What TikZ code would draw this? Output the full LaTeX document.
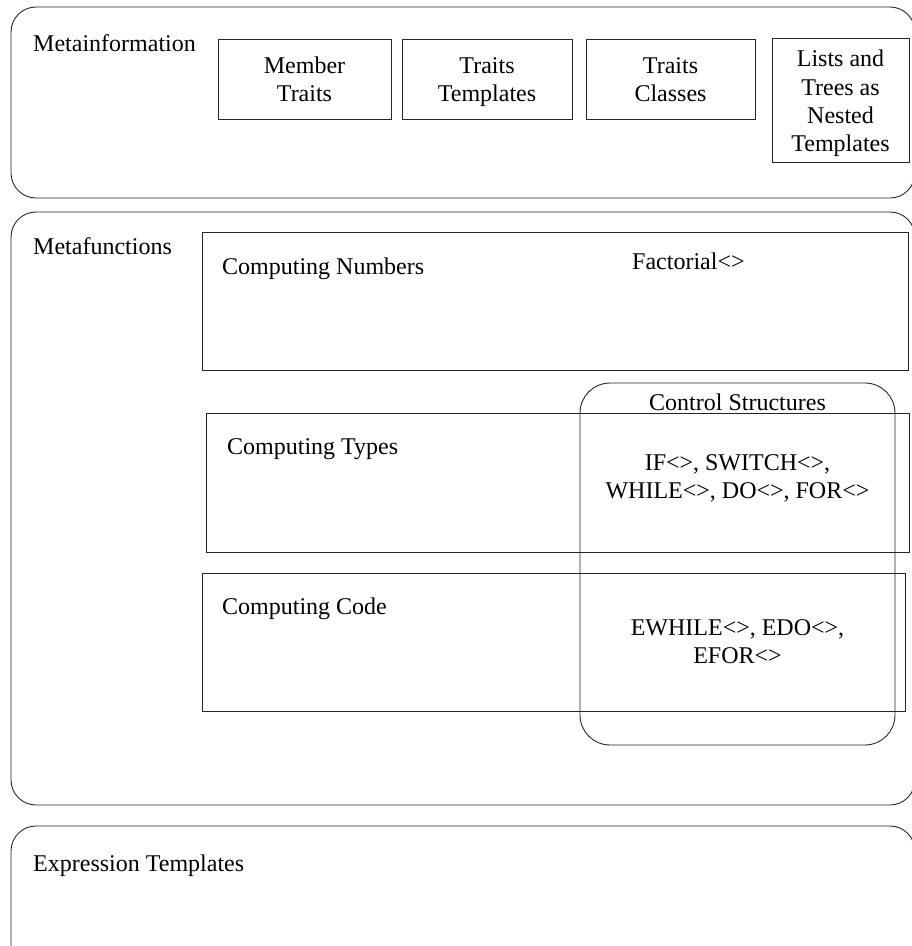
\documentclass[tikz,border=0pt]{standalone}
\usepackage{fontspec}
\setmainfont{Liberation Serif}
\begin{document}
\begin{tikzpicture}[x=1pt,y=-1pt,
  every node/.style={font=\fontsize{24}{28.3}\selectfont, inner sep=0pt, text=black},
  outerbox/.style={draw=black!85, line width=0.9pt, rounded corners=25pt},
  evenlines/.style={align=center, yshift=-3pt, execute at begin node={\vphantom{lp}}, execute at end node={\vphantom{lp}}},
  plainbox/.style={draw=black!85, line width=0.9pt},
  ctrlbox/.style={draw=black!85, line width=0.9pt, rounded corners=30pt},
  lbl/.style={anchor=base west}]
\useasboundingbox (0,0) rectangle (912,946);
\clip (0,0) rectangle (912,946);
% outer groups
\node[outerbox, minimum width=904pt, minimum height=191pt] (metainfo) at (463,102.5) {};
\node[outerbox, minimum width=904pt, minimum height=593pt] (metafun) at (463,508.5) {};
\node[outerbox, minimum width=904pt, minimum height=154pt] (expr) at (463,903) {};
% labels of outer groups
\node[lbl] (metainfoL) at (33,51) {Metainformation};
\node[lbl] (metafunL) at (33,254) {Metafunctions};
\node[lbl] (exprL) at (33,871) {Expression Templates};
% metainformation items
\node[plainbox, minimum width=173pt, minimum height=80pt] (member) at (304.5,79) {};
\node[plainbox, minimum width=170pt, minimum height=80pt] (ttempl) at (487,79) {};
\node[plainbox, minimum width=169pt, minimum height=80pt] (tclass) at (670.5,79) {};
\node[plainbox, minimum width=137pt, minimum height=124pt] (lists) at (840.5,100.5) {};
\node[evenlines] (memberT) at (member.center) {Member\\Traits};
\node[evenlines] (ttemplT) at (ttempl.center) {Traits\\Templates};
\node[evenlines] (tclassT) at (tclass.center) {Traits\\Classes};
\node[evenlines] (listsT) at (lists.center) {Lists and\\Trees as\\Nested\\Templates};
% metafunctions items
\node[plainbox, minimum width=706pt, minimum height=138pt] (cnum) at (555,301) {};
\node[plainbox, minimum width=703pt, minimum height=139pt] (ctyp) at (557.5,482.5) {};
\node[plainbox, minimum width=703pt, minimum height=138pt] (ccode) at (553.5,642) {};
\node[lbl] (cnumL) at (222,274) {Computing Numbers};
\node[lbl] (fact) at (632,269) {Factorial<>};
\node[lbl] (ctypL) at (227,454) {Computing Types};
\node[lbl] (ccodeL) at (222,614) {Computing Code};
% control structures
\node[ctrlbox, minimum width=315pt, minimum height=362pt] (ctrl) at (737.5,564) {};
\node[anchor=base] (ctrlL) at (737.5,410) {Control Structures};
\node[evenlines] (loops) at (737.5,476) {IF<>, SWITCH<>,\\WHILE<>, DO<>, FOR<>};
\node[evenlines] (eloops) at (737.5,641) {EWHILE<>, EDO<>,\\EFOR<>};
\end{tikzpicture}
\end{document}
